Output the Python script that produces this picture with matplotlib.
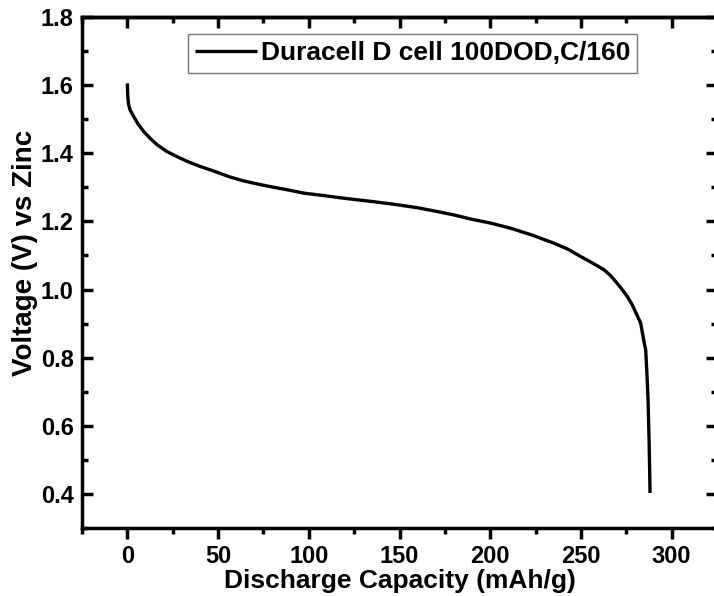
import matplotlib
matplotlib.use("Agg")
import matplotlib.pyplot as plt
from matplotlib.ticker import MultipleLocator

plt.rcParams['font.family'] = ['Liberation Sans', 'DejaVu Sans']
plt.rcParams['font.weight'] = 'bold'

capacity = [0, 0.2, 0.6, 1.5, 3.5, 6, 9, 12.5, 16.4, 21.5, 27.4, 33.5, 40.3, 48.5,
            56.8, 64, 71.5, 78.9, 89.9, 97.2, 108, 119.3, 134, 148.7, 160, 170.8,
            180, 189.2, 200.2, 211.2, 223, 235.1, 243, 249.8, 256, 262.7, 266.5,
            270, 273, 275.5, 278, 280, 281.5, 282.9, 284, 285, 285.7, 286.4, 287,
            287.6, 288.1]
voltage = [1.605, 1.57, 1.545, 1.527, 1.508, 1.485, 1.464, 1.444, 1.425, 1.406,
           1.390, 1.375, 1.361, 1.346, 1.330, 1.319, 1.310, 1.302, 1.291, 1.283,
           1.276, 1.268, 1.259, 1.249, 1.240, 1.229, 1.219, 1.207, 1.195, 1.180,
           1.160, 1.136, 1.118, 1.097, 1.079, 1.058, 1.040, 1.018, 0.998, 0.980,
           0.958, 0.935, 0.918, 0.902, 0.870, 0.840, 0.823, 0.750, 0.677, 0.550,
           0.403]
series_label = "Duracell D cell 100DOD,C/160"
x_label = "Discharge Capacity (mAh/g)"
y_label = "Voltage (V) vs Zinc"

W, H = 714, 596
L, R, T, B = 82, 717, 17, 528
fig = plt.figure(figsize=(W / 100, H / 100), dpi=100)
ax = fig.add_axes([L / W, (H - B) / H, (R - L) / W, (B - T) / H])

ax.plot(capacity, voltage, color='black', lw=2.4, label=series_label,
        solid_joinstyle='round', solid_capstyle='butt')

ax.set_xlim(-25, 325)
ax.set_ylim(0.3, 1.8)
ax.xaxis.set_major_locator(MultipleLocator(50))
ax.xaxis.set_minor_locator(MultipleLocator(25))
ax.yaxis.set_major_locator(MultipleLocator(0.2))
ax.yaxis.set_minor_locator(MultipleLocator(0.1))

for s in ax.spines.values():
    s.set_linewidth(2.5)

ax.tick_params(axis='x', which='both', direction='out', bottom=True, top=False,
               labelsize=17, pad=4)
ax.tick_params(axis='x', which='major', length=8, width=2.5)
ax.tick_params(axis='x', which='minor', length=4, width=2.5)
ax.tick_params(axis='y', which='both', direction='in', left=True, right=True,
               labelsize=17, pad=6)
ax.tick_params(axis='y', which='major', length=8, width=2.5)
ax.tick_params(axis='y', which='minor', length=4, width=2.5)

sec = ax.secondary_xaxis('top')
sec.xaxis.set_major_locator(MultipleLocator(50))
sec.xaxis.set_minor_locator(MultipleLocator(25))
sec.tick_params(which='both', direction='in', labeltop=False, width=2.5)
sec.tick_params(which='major', length=8)
sec.tick_params(which='minor', length=4)
sec.spines['top'].set_linewidth(2.5)

ax.set_yticks([0.4, 0.6, 0.8, 1.0, 1.2, 1.4, 1.6, 1.8])
ax.set_yticklabels(["0.4", "0.6", "0.8", "1.0", "1.2", "1.4", "1.6", "1.8"])

ax.set_xlabel(x_label, fontsize=19, fontweight='bold', labelpad=1)
ax.set_ylabel(y_label, fontsize=20, fontweight='bold')
ax.yaxis.set_label_coords((38 - L) / (R - L), (B - 253) / (B - T))

leg = ax.legend(loc='upper left',
                bbox_to_anchor=((188 - L) / (R - L), 1 - (34 - T) / (B - T)),
                fontsize=19, frameon=True, fancybox=False, handlelength=2.35,
                handletextpad=0.12, borderpad=0.28, borderaxespad=0)
leg.get_frame().set_edgecolor('#555555')
leg.get_frame().set_linewidth(1.0)
for t in leg.get_texts():
    t.set_fontweight('bold')

fig.savefig("out.png", dpi=100)
